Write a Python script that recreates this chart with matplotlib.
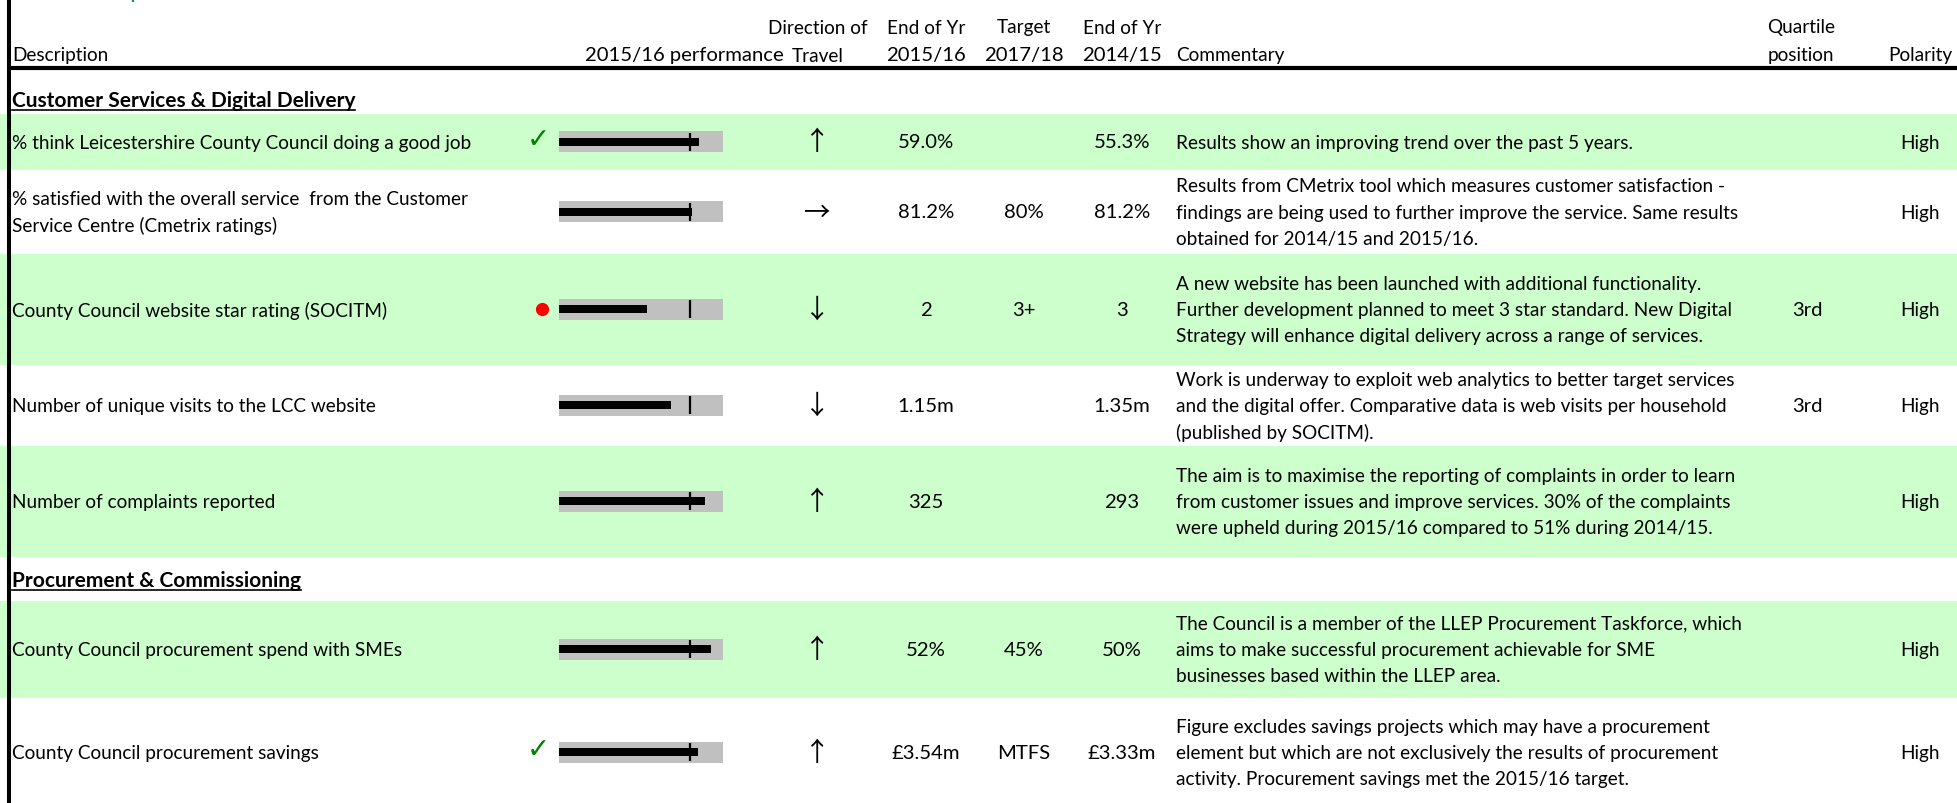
import matplotlib
matplotlib.use('Agg')
import matplotlib.pyplot as plt

W, H = 1958, 804

# ---- table content ----
sections = ["Customer Services & Digital Delivery", "Procurement & Commissioning"]
descriptions = [
    "% think Leicestershire County Council doing a good job",
    "% satisfied with the overall service  from the Customer\nService Centre (Cmetrix ratings)",
    "County Council website star rating (SOCITM)",
    "Number of unique visits to the LCC website",
    "Number of complaints reported",
    "County Council procurement spend with SMEs",
    "County Council procurement savings",
]
# 2015/16 performance as % of comparator (target or previous year)
perf_pct = [106.7, 101.5, 66.7, 85.2, 110.9, 115.6, 106.3]
target_pct = 100
scale_max = 125
status = ["tick", "", "red", "", "", "", "tick"]
direction = ["↑", "→", "↓", "↓", "↑", "↑", "↑"]
end_1516 = ["59.0%", "81.2%", "2", "1.15m", "325", "52%", "£3.54m"]
target_1718 = ["", "80%", "3+", "", "", "45%", "MTFS"]
end_1415 = ["55.3%", "81.2%", "3", "1.35m", "293", "50%", "£3.33m"]
commentary = [
    "Results show an improving trend over the past 5 years.",
    "Results from CMetrix tool which measures customer satisfaction -\n"
    "findings are being used to further improve the service. Same results\n"
    "obtained for 2014/15 and 2015/16.",
    "A new website has been launched with additional functionality.\n"
    "Further development planned to meet 3 star standard. New Digital\n"
    "Strategy will enhance digital delivery across a range of services.",
    "Work is underway to exploit web analytics to better target services\n"
    "and the digital offer. Comparative data is web visits per household\n"
    "(published by SOCITM).",
    "The aim is to maximise the reporting of complaints in order to learn\n"
    "from customer issues and improve services. 30% of the complaints\n"
    "were upheld during 2015/16 compared to 51% during 2014/15.",
    "The Council is a member of the LLEP Procurement Taskforce, which\n"
    "aims to make successful procurement achievable for SME\n"
    "businesses based within the LLEP area.",
    "Figure excludes savings projects which may have a procurement\n"
    "element but which are not exclusively the results of procurement\n"
    "activity. Procurement savings met the 2015/16 target.",
]
quartile = ["", "", "3rd", "3rd", "", "", ""]
polarity = ["High"] * 7

# ---- layout (pixels) ----
row_top = [115, 171, 255, 366, 447, 602, 699]
row_bot = [171, 255, 366, 447, 558, 699, 808]
row_green = [True, False, True, False, True, True, False]
section_y = [101, 581]
GREEN = '#CCFFCC'
GREY = '#C0C0C0'
FS = 13.7      # body text
FS_NUM = 14.6  # number columns (Calibri figures are wider than Lato's)
LINE = 26.3

plt.rcParams['font.family'] = ['Lato', 'DejaVu Sans']
plt.rcParams['text.color'] = '#000000'

fig = plt.figure(figsize=(W / 100, H / 100), dpi=100)
ax = fig.add_axes([0, 0, 1, 1])
ax.set_xlim(0, W); ax.set_ylim(H, 0); ax.axis('off')


def lines_at(x, yc, txt, ha='left', **kw):
    parts = txt.split('\n')
    for i, p in enumerate(parts):
        ax.text(x, yc + (i - (len(parts) - 1) / 2) * LINE, p, ha=ha, va='center', fontsize=FS, **kw)


# row backgrounds
for top, bot, g in zip(row_top, row_bot, row_green):
    if g:
        ax.axhspan(top, bot, color=GREEN, lw=0, zorder=0)

# borders
ax.axvline(9.2, color='black', lw=2.9, zorder=5)
ax.plot([9, W], [69, 69], color='black', lw=3.0, solid_capstyle='butt', zorder=5)
ax.vlines(133, 0, 3, color='#00965A', lw=1.6)

# header
HY1, HY2 = 28, 56
ax.text(12, HY2, "Description", ha='left', va='center', fontsize=FS)
ax.text(784, HY2, "2015/16 performance", ha='right', va='center', fontsize=FS_NUM)
for xc, l1, l2 in [(818, "Direction of", "Travel"), (926, "End of Yr", "2015/16"),
                   (1024, "Target", "2017/18"), (1122, "End of Yr", "2014/15"),
                   (1801, "Quartile", "position")]:
    ax.text(xc, HY1, l1, ha='center', va='center', fontsize=FS)
    ax.text(xc, HY2, l2, ha='center', va='center', fontsize=FS_NUM if l2[0].isdigit() else FS)
ax.text(1176, HY2, "Commentary", ha='left', va='center', fontsize=FS)
ax.text(1952, HY2, "Polarity", ha='right', va='center', fontsize=FS)

# section headers, bold + underline
sec_txt = [ax.text(12, y, s, ha='left', va='center', fontsize=15, fontweight='bold')
           for s, y in zip(sections, section_y)]
fig.canvas.draw()
for t, y in zip(sec_txt, section_y):
    bb = t.get_window_extent()
    ax.plot([bb.x0, bb.x1], [y + 10, y + 10], color='black', lw=1.2)

# bullet axes
axb = fig.add_axes([559 / W, 0, (723 - 559) / W, 1])
axb.set_xlim(0, scale_max); axb.set_ylim(H, 0); axb.axis('off')

for i in range(len(descriptions)):
    yc = (row_top[i] + row_bot[i]) / 2
    lines_at(12, yc, descriptions[i])
    lines_at(1176, yc, commentary[i])
    ax.text(817, yc, direction[i], ha='center', va='center', fontsize=19,
            family=['Noto Sans CJK JP', 'DejaVu Sans'])
    for xc, vals in [(926, end_1516), (1024, target_1718), (1122, end_1415),
                     (1807, quartile)]:
        if vals[i]:
            ax.text(xc, yc, vals[i], ha='center', va='center', fontsize=FS_NUM)
    ax.text(1920, yc, polarity[i], ha='center', va='center', fontsize=FS)
    if status[i] == 'tick':
        ax.text(538, yc - 3, '✓', ha='center', va='center', fontsize=20,
                color='#008000', family='DejaVu Sans', fontweight='bold')
    elif status[i] == 'red':
        ax.plot(542, yc - 1, 'o', ms=9.5, color='#FF0000', mec='none')
    yb = yc - 0.5
    axb.barh(yb, scale_max, height=21, color=GREY, lw=0)
    axb.barh(yb, perf_pct[i], height=8, color='black', lw=0)
    axb.vlines(target_pct, yb - 9, yb + 9, color='black', lw=1.6)

fig.savefig('out.png', dpi=100)
